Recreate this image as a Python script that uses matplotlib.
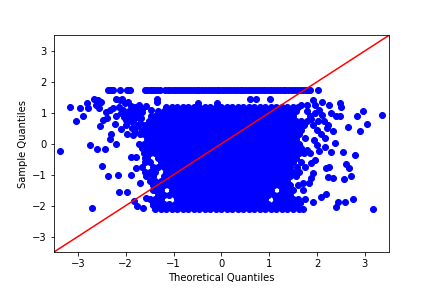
import numpy as np
import matplotlib
matplotlib.use('Agg')
import matplotlib.pyplot as plt

# capped values along the top
top_level = 1.75
top_theo = [-2.37, -2.33, -2.29, -2.26, -2.12, -1.98, -1.94, -1.91, -1.6, -1.55, -1.5, -1.45,
            -1.4, -1.35, -1.29, -1.18, -1.12, -1.06, -1.0, -0.94, -0.88, -0.82, -0.76, -0.7,
            -0.64, -0.58, -0.52, -0.46, -0.4, -0.34, -0.28, -0.22, -0.16, -0.1, -0.04, 0.02,
            0.08, 0.14, 0.2, 0.26, 0.32, 0.38, 0.44, 0.5, 0.56, 0.62, 0.68, 0.74, 0.8, 0.86,
            0.92, 0.98, 1.04, 1.1, 1.16, 1.22, 1.28, 1.34, 1.4, 1.46, 1.52, 1.58, 1.64, 1.7,
            1.76, 1.81, 1.86, 2.03]

# sparse points left of the cloud
left_theo = [-3.16, -3.05, -2.89, -2.95, -2.82, -2.79, -2.66, -2.63, -2.56, -2.58, -2.51,
             -2.42, -2.33, -2.26, -2.21, -2.08, -2.12, -2.53, -2.47, -2.4, -2.23, -2.09,
             -2.0, -1.98, -2.3, -2.33, -2.2, -2.75, -2.6, -2.44, -3.37, -2.49, -2.37,
             -2.16, -2.14, -1.98, -2.7, -1.88, -1.88, -1.78, -1.79, -1.71, -1.83, -1.76,
             -1.64, -1.57, -1.43, -1.35, -1.35, -1.47, -2.02, -1.95, -1.88, -1.8, -1.72,
             -1.93, -1.85, -2.14, -2.03, -1.65, -1.9, -1.75, -2.2, -1.84, -2.06, -1.98,
             -1.9, -1.82, -1.74, -1.66, -1.58, -2.1, -2.0, -1.92, -1.84, -1.76, -1.68,
             -1.86, -1.78, -1.7, -1.8, -0.49, -0.09]
left_samp = [1.2, 0.72, 0.91, 1.17, 1.3, 1.17, 1.46, 1.25, 1.15, 1.41, 1.36,
             1.03, 1.08, 1.15, 1.46, 1.46, 1.41, 0.58, 0.76, 0.82, 0.65, 0.47,
             0.6, 0.33, 0.33, 0.14, -0.02, -0.05, -0.17, -0.17, -0.22, -0.73, -1.05,
             -1.02, -1.57, -1.57, -2.09, -1.02, -0.42, -0.42, -0.8, -1.28, -1.84, -2.01,
             -2.09, -1.77, -1.98, 1.46, 1.36, 1.1, 1.3, 1.36, 1.22, 1.18, 1.25,
             1.05, 0.95, 1.2, 0.85, 1.02, 0.72, 0.62, 0.9, 0.28, 1.1, 1.0,
             0.92, 1.08, 1.02, 1.12, 1.22, 0.98, 0.78, 0.8, 0.72, 0.85, 0.82,
             0.5, 0.55, 0.68, 0.38, 1.3, 1.3]

# sparse points right of the cloud
right_theo = [3.36, 2.96, 2.84, 3.04, 2.65, 2.9, 2.49, 2.5, 2.26, 2.29, 2.4, 2.47, 2.11,
              1.91, 1.95, 1.66, 1.78, 2.23, 2.33, 2.16, 2.37, 1.94, 1.75, 0.59, 0.73, 1.01,
              2.05, 2.1, 1.95, 2.02, 1.88, 1.92, 2.14, 2.2, 2.0, 2.08,
              3.17, 2.79, 2.54, 2.61, 2.67, 2.19, 2.26, 2.23, 2.33, 2.56, 2.7, 1.91, 1.88,
              1.84, 1.7, 1.7, 2.09, 2.19, 1.91, 2.75, 2.59, 2.44, 2.39, 1.74, 1.64, 1.7,
              2.04, 1.95, 1.88, 1.74, 1.62, 1.8, 2.16, 2.3, 2.0]
right_samp = [0.94, 1.07, 0.88, 0.65, 0.53, 0.4, 1.32, 1.19, 1.24, 0.98, 0.88, 0.9, 1.36,
              1.41, 1.25, 1.25, 1.25, 0.6, 0.41, 0.17, 0.03, 0.12, 0.17, 1.46, 1.46, 1.43,
              1.1, 0.92, 0.98, 0.74, 0.8, 0.62, 0.72, 0.5, 0.45, 0.3,
              -2.12, -0.35, -0.28, -0.66, -0.8, -0.8, -0.76, -1.09, -1.12, -1.15, -1.05,
              -0.96, -1.12, -1.26, -1.28, -1.5, -1.71, -1.64, -1.89, -1.8, -1.89, -1.89,
              -2.05, -1.8, -1.93, -2.12, -0.22, -0.53, -0.62, -0.76, -0.01, -0.2, -0.12,
              -0.26, -0.05]

# dense cloud, rows of theoretical quantiles per sample level
core_levels = [1.2, 1.05, 0.9, 0.75, 0.6, 0.45, 0.3, 0.15, 0.0, -0.15, -0.3, -0.45,
               -0.6, -0.75, -0.9, -1.05, -1.2, -1.35, -1.5, -1.65, -1.8, -1.95, -2.11]
# saturated middle of the cloud, two alternating row layouts
mid_a = [-0.92, -0.81, -0.69, -0.58, -0.46, -0.35, -0.23, -0.12, 0.0, 0.12, 0.23, 0.35, 0.46,
         0.58, 0.69, 0.81, 0.92]
mid_b = [-0.98, -0.86, -0.75, -0.63, -0.52, -0.4, -0.29, -0.17, -0.06, 0.06, 0.17, 0.29, 0.4,
         0.52, 0.63, 0.75, 0.86, 0.98]
core_left = [
    [-1.04, -1.15],
    [-1.09, -1.21, -1.32],
    [-1.04, -1.15, -1.27, -1.38, -1.47],
    [-1.09, -1.21, -1.32, -1.44, -1.52],
    [-1.04, -1.15, -1.27, -1.38, -1.5, -1.6],
    [-1.09, -1.21, -1.32, -1.44, -1.55, -1.65],
    [-1.04, -1.15, -1.27, -1.38, -1.5, -1.62, -1.7],
    [-1.09, -1.21, -1.32, -1.44, -1.55],
    [-1.04, -1.15, -1.27, -1.38, -1.5, -1.62, -1.72],
    [-1.09, -1.21, -1.32, -1.44, -1.55, -1.67],
    [-1.04, -1.15, -1.27, -1.38, -1.5, -1.62],
    [-1.09, -1.21, -1.32, -1.55, -1.6],
    [-1.04, -1.15, -1.27, -1.5, -1.6],
    [-1.09, -1.21, -1.32, -1.44, -1.67],
    [-1.04, -1.15, -1.38, -1.5, -1.6],
    [-1.09, -1.21, -1.44, -1.58],
    [-1.04, -1.15, -1.27, -1.38, -1.5],
    [-1.09, -1.21, -1.32, -1.44],
    [-1.04, -1.27, -1.38, -1.42],
    [-1.09, -1.21, -1.32],
    [-1.27, -1.38, -1.5],
    [-1.09, -1.21, -1.32, -1.44],
    [-1.04, -1.15, -1.27, -1.38],
]
core_right = [
    [1.04, 1.15, 1.27, 1.38, 1.5, 1.6],
    [1.09, 1.21, 1.32, 1.44, 1.55, 1.78],
    [1.04, 1.15, 1.27, 1.38, 1.5, 1.85],
    [1.09, 1.21, 1.32, 1.44, 1.55, 1.67, 1.78],
    [1.04, 1.15, 1.27, 1.38, 1.5, 1.62, 1.73],
    [1.09, 1.21, 1.32, 1.44, 1.55, 1.67],
    [1.04, 1.15, 1.27, 1.38, 1.5, 1.62],
    [1.09, 1.21, 1.32, 1.44, 1.55],
    [1.04, 1.15, 1.27, 1.38, 1.5, 1.6],
    [1.09, 1.21, 1.32, 1.44, 1.55, 1.67],
    [1.04, 1.15, 1.27, 1.38, 1.5, 1.62, 1.73, 1.85],
    [1.09, 1.21, 1.32, 1.44, 1.55],
    [1.04, 1.15, 1.27, 1.38, 1.5, 1.66],
    [1.09, 1.21, 1.32, 1.44, 1.58],
    [1.04, 1.15, 1.27, 1.38, 1.5, 1.62],
    [1.09, 1.21, 1.32, 1.44, 1.55],
    [1.04, 1.15, 1.27, 1.38],
    [1.09, 1.21, 1.32, 1.44, 1.6],
    [1.04, 1.27, 1.38, 1.5],
    [1.09, 1.21, 1.32, 1.44],
    [1.15, 1.27, 1.38, 1.5, 1.6],
    [1.09, 1.21, 1.32, 1.44, 1.55],
    [1.04, 1.15, 1.27, 1.38, 1.5, 1.62],
]

core_rows = []
for i in range(len(core_levels)):
    mid = mid_a if i % 2 == 0 else mid_b
    core_rows.append(core_left[i] + mid + core_right[i])

core_theo = np.concatenate(core_rows)
core_samp = np.repeat(core_levels, [len(r) for r in core_rows])
top_samp = [top_level] * len(top_theo)

theo = np.concatenate([top_theo, left_theo, core_theo, right_theo])
samp = np.concatenate([top_samp, left_samp, core_samp, right_samp])

fig, ax = plt.subplots(figsize=(6, 4), dpi=72)
fig.subplots_adjust(left=0.125, right=0.9, bottom=0.125, top=0.877)

ax.plot(theo, samp, 'bo')
ax.plot([-3.5, 3.5], [-3.5, 3.5], color='red')

ax.set_xlim(-3.5, 3.5)
ax.set_ylim(-3.5, 3.5)
ax.set_xticks([-3, -2, -1, 0, 1, 2, 3])
ax.set_yticks([-3, -2, -1, 0, 1, 2, 3])
ax.set_xlabel('Theoretical Quantiles')
ax.set_ylabel('Sample Quantiles')

fig.savefig('out.png', dpi=72)
